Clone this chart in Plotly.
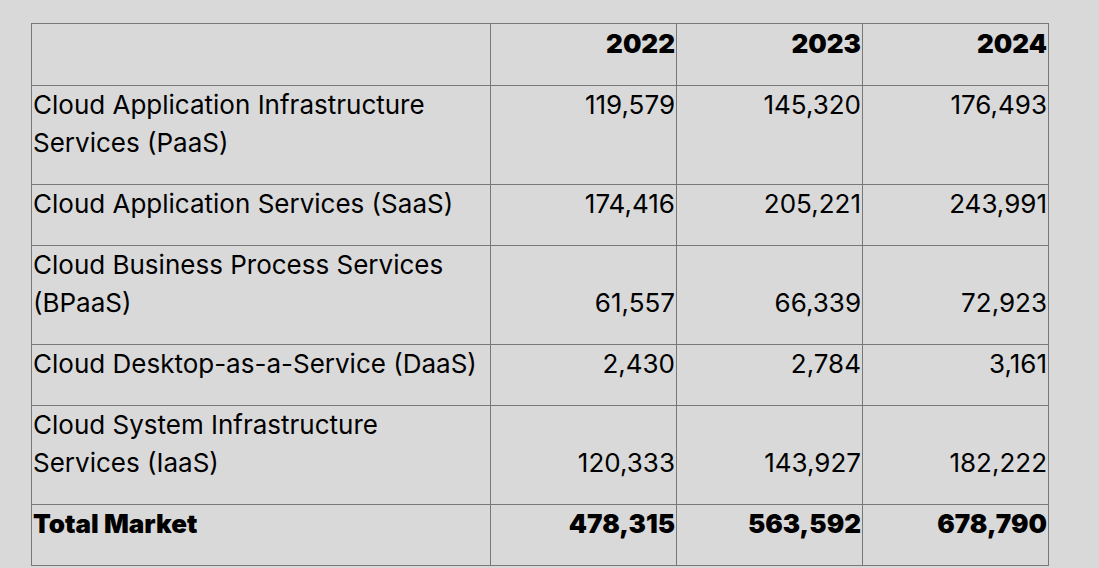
import textwrap
import plotly.graph_objects as go

# ---------------- data ----------------
years = ["2022", "2023", "2024"]
segments = [
    "Cloud Application Infrastructure Services (PaaS)",
    "Cloud Application Services (SaaS)",
    "Cloud Business Process Services (BPaaS)",
    "Cloud Desktop-as-a-Service (DaaS)",
    "Cloud System Infrastructure Services (IaaS)",
]
revenue_2022 = [119579, 174416, 61557, 2430, 120333]
revenue_2023 = [145320, 205221, 66339, 2784, 143927]
revenue_2024 = [176493, 243991, 72923, 3161, 182222]
total_label = "Total Market"
total_values = [478315, 563592, 678790]

# ---------------- layout / style ----------------
BG = "#d9d9d9"
GRID = "#787878"
TXT = "#000000"
FONT = "Inter"
FSIZE = 26
col_widths = [458, 186, 186, 186]
ROW_BASE = 61        # height of a one-line row
LINE_STEP = 38       # extra height per extra text line
FIRST_LINE = 22.5    # first text line centre from row top
PAD_L = 1
PAD_R = 1
WRAP = 33
# where the numbers sit inside multi-line rows
value_anchor = ["top", "top", "bottom", "top", "bottom"]

# ---------------- derived geometry ----------------
col_edges = [0]
for w in col_widths:
    col_edges.append(col_edges[-1] + w)

label_lines = [textwrap.wrap(s, WRAP) for s in segments]
row_lines = [1] + [len(l) for l in label_lines] + [1]
row_heights = [ROW_BASE + LINE_STEP * (n - 1) for n in row_lines]
row_tops = [0]
for h in row_heights:
    row_tops.append(row_tops[-1] + h)
table_h = row_tops[-1]
table_w = col_edges[-1]

series = [revenue_2022, revenue_2023, revenue_2024]

# regular label text (left column)
lx, ly, lt = [], [], []
for i, lines in enumerate(label_lines):
    for j, line in enumerate(lines):
        lx.append(col_edges[0] + PAD_L)
        ly.append(row_tops[i + 1] + FIRST_LINE + LINE_STEP * j)
        lt.append(line)

# regular numbers (right aligned)
vx, vy, vt = [], [], []
for i in range(len(segments)):
    n = row_lines[i + 1]
    k = 0 if value_anchor[i] == "top" else n - 1
    for c, s in enumerate(series):
        vx.append(col_edges[c + 2] - PAD_R)
        vy.append(row_tops[i + 1] + FIRST_LINE + LINE_STEP * k)
        vt.append(f"{s[i]:,}")

# bold: header years + total row
bx, by, bt, bp = [], [], [], []
for c, y in enumerate(years):
    bx.append(col_edges[c + 2] - PAD_R)
    by.append(row_tops[0] + FIRST_LINE)
    bt.append(y)
    bp.append("middle left")
bx.append(col_edges[0] + PAD_L)
by.append(row_tops[-2] + FIRST_LINE)
bt.append(total_label)
bp.append("middle right")
for c, v in enumerate(total_values):
    bx.append(col_edges[c + 2] - PAD_R)
    by.append(row_tops[-2] + FIRST_LINE)
    bt.append(f"{v:,}")
    bp.append("middle left")

fig = go.Figure()
fig.add_trace(go.Scatter(
    x=lx, y=ly, text=lt, mode="text", textposition="middle right",
    textfont=dict(family=FONT, size=FSIZE, color=TXT),
    hoverinfo="skip", showlegend=False, cliponaxis=False))
fig.add_trace(go.Scatter(
    x=vx, y=vy, text=vt, mode="text", textposition="middle left",
    textfont=dict(family=FONT, size=FSIZE, color=TXT),
    hoverinfo="skip", showlegend=False, cliponaxis=False))
fig.add_trace(go.Scatter(
    x=bx, y=by, text=bt, mode="text", textposition=bp,
    textfont=dict(family=FONT, size=FSIZE, color=TXT, weight=900),
    hoverinfo="skip", showlegend=False, cliponaxis=False))

W, H = 1099, 568
ML, MT = 32, 24
fig.update_layout(
    width=W, height=H,
    margin=dict(l=ML, r=W - ML - table_w, t=MT, b=H - MT - table_h, pad=0),
    paper_bgcolor=BG, plot_bgcolor=BG,
    xaxis=dict(range=[0, table_w], tickvals=col_edges[1:-1], showticklabels=False,
               ticks="", showgrid=True, gridcolor=GRID, gridwidth=1, zeroline=False,
               showline=True, mirror=True, linecolor=GRID, linewidth=1, fixedrange=True),
    yaxis=dict(range=[table_h, 0], tickvals=row_tops[1:-1], showticklabels=False,
               ticks="", showgrid=True, gridcolor=GRID, gridwidth=1, zeroline=False,
               showline=True, mirror=True, linecolor=GRID, linewidth=1, fixedrange=True),
)
fig.write_html(
    "out.html",
    config={"displayModeBar": False},
    post_script=("document.body.style.margin='0';"
                 "document.body.style.overflow='hidden';"
                 f"document.body.style.background='{BG}';"),
)
